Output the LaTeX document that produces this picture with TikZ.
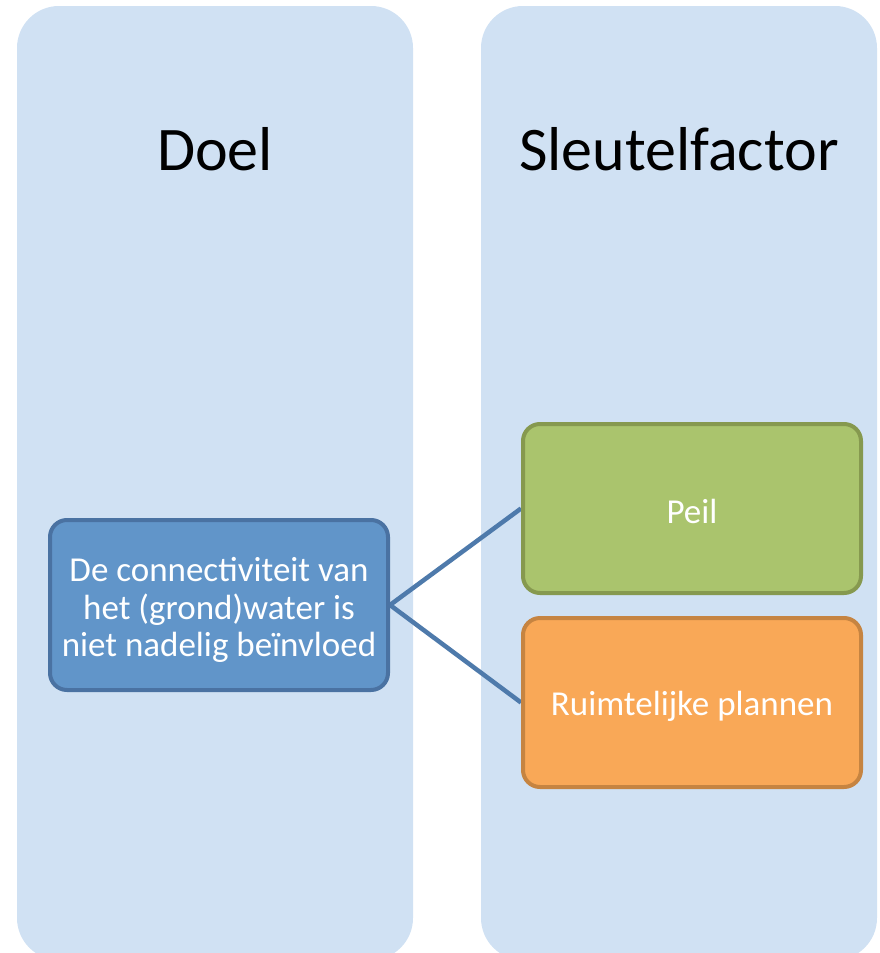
\documentclass[tikz,border=0pt]{standalone}
\usepackage{fontspec}
\setmainfont{Carlito}
\usetikzlibrary{backgrounds}
\pgfdeclarelayer{columns}
\pgfdeclarelayer{background}
\pgfsetlayers{columns,background,main}
\definecolor{colfill}{HTML}{D0E1F3}
\definecolor{goalfill}{HTML}{6195C9}
\definecolor{goaldraw}{HTML}{4A72A2}
\definecolor{greenfill}{HTML}{AAC46D}
\definecolor{greendraw}{HTML}{86994F}
\definecolor{orangefill}{HTML}{F9A857}
\definecolor{orangedraw}{HTML}{C68441}
\definecolor{linkcol}{HTML}{4E7AAB}
\tikzset{
  column/.style={fill=colfill, rounded corners=42pt},
  header/.style={anchor=base, font=\fontsize{62}{70}\selectfont, text=black},
  itembox/.style={rounded corners=17pt, line width=4pt, minimum width=338pt,
    minimum height=169pt, inner sep=0pt},
  itemtext/.style={text=white, align=center, inner sep=0pt,
    font=\fontsize{35}{37.5}\selectfont},
  link/.style={draw=linkcol, line width=4.5pt}
}
\begin{document}
\begin{tikzpicture}[x=1pt,y=-1pt]
  \useasboundingbox (0,0) rectangle (880,953);
  \clip (0,0) rectangle (880,953);
  % the two columns
  \begin{pgfonlayer}{columns}
    \fill[column] (17,6) rectangle (413,960);
    \fill[column] (481,6) rectangle (877,960);
  \end{pgfonlayer}
  \node[header] (hdoel) at (215,170) {Doel};
  \node[header] (hsleutel) at (679,170) {Sleutelfactor};
  % boxes
  \node[itembox, fill=goalfill, draw=goaldraw, minimum height=170pt] (goal) at (219,605) {};
  \node[itembox, fill=greenfill, draw=greendraw] (peil) at (692,508.5) {};
  \node[itembox, fill=orangefill, draw=orangedraw] (plan) at (692,702.5) {};
  % box texts
  \node[itemtext] (goaltxt) at ([yshift=-5pt]goal.center)
    {De connectiviteit van\\het (grond)water is\\niet nadelig beïnvloed};
  \node[itemtext] (peiltxt) at ([yshift=-3pt]peil.center) {Peil};
  \node[itemtext] (plantxt) at ([yshift=-4pt]plan.center) {Ruimtelijke plannen};
  % connectors, kept under the boxes
  \begin{pgfonlayer}{background}
    \draw[link] (goal.east) -- (peil.west);
    \draw[link] (goal.east) -- (plan.west);
  \end{pgfonlayer}
\end{tikzpicture}
\end{document}
